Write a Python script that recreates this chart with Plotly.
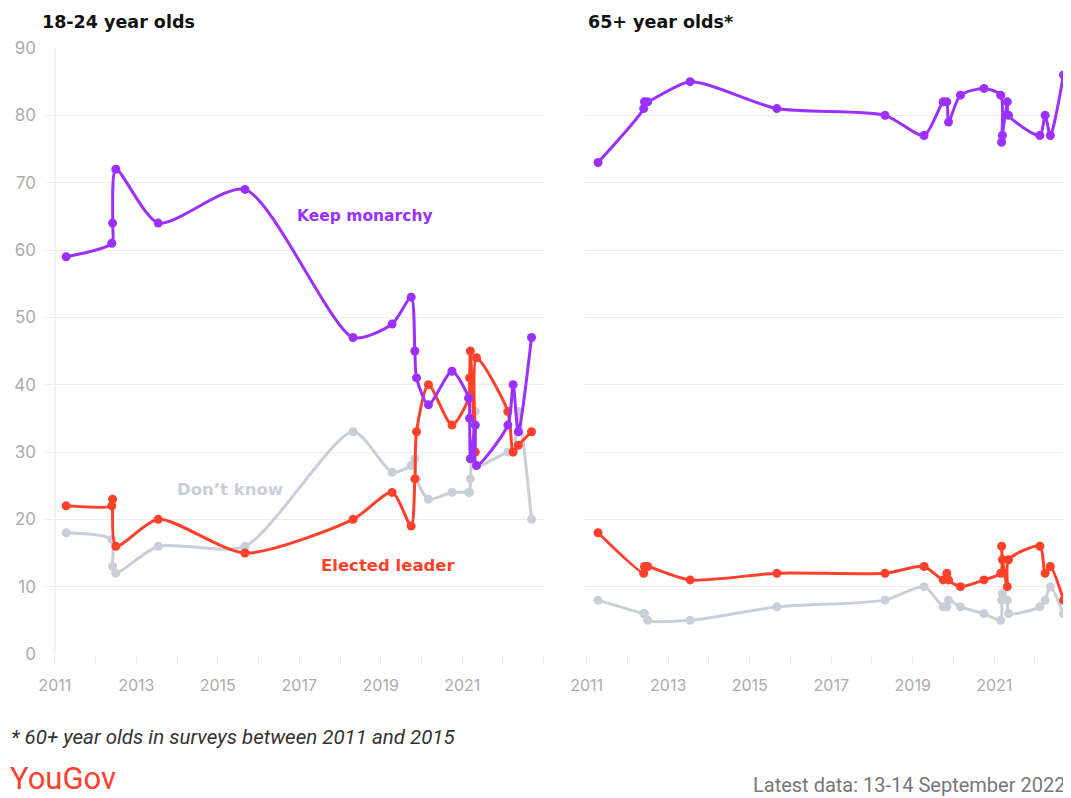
import plotly.graph_objects as go

# ---------------- data ----------------
survey_dates = [
    "2011-04-13", "2012-05-26", "2012-06-02", "2012-07-01", "2013-07-16",
    "2015-09-02", "2018-04-28", "2019-04-13", "2019-10-01", "2019-11-03",
    "2019-11-18", "2020-03-04", "2020-10-01", "2021-02-28", "2021-03-08",
    "2021-03-15", "2021-04-28", "2021-05-09", "2022-02-14", "2022-04-02",
    "2022-05-19", "2022-09-14",
]

young_keep = [59, 61, 64, 72, 64, 69, 47, 49, 53, 45, 41, 37, 42, 38, 35, 29, 34, 28, 34, 40, 33, 47]
young_elected = [22, 22, 23, 16, 20, 15, 20, 24, 19, 26, 33, 40, 34, 38, 41, 45, 30, 44, 36, 30, 31, 33]
young_dont_know = [18, 17, 13, 12, 16, 16, 33, 27, 28, 29, 26, 23, 24, 24, 24, 26, 36, 28, 30, 30, 36, 20]

old_keep = [73, 81, 82, 82, 85, 81, 80, 77, 82, 82, 79, 83, 84, 83, 76, 77, 82, 80, 77, 80, 77, 86]
old_elected = [18, 12, 13, 13, 11, 12, 12, 13, 11, 12, 11, 10, 11, 12, 16, 14, 10, 14, 16, 12, 13, 8]
old_dont_know = [8, 6, 6, 5, 5, 7, 8, 10, 7, 7, 8, 7, 6, 5, 8, 9, 8, 6, 7, 8, 10, 6]

year_tickvals = ["2011-01-01", "2013-01-01", "2015-01-01", "2017-01-01", "2019-01-01", "2021-01-01"]
year_ticktext = ["2011", "2013", "2015", "2017", "2019", "2021"]
y_tickvals = [0, 10, 20, 30, 40, 50, 60, 70, 80, 90]

panel_titles = ["18-24 year olds", "65+ year olds*"]
series_names = ["Keep monarchy", "Elected leader", "Don\u2019t know"]
footnote = "* 60+ year olds in surveys between 2011 and 2015"
source_note = "Latest data: 13-14 September 2022"
brand = "YouGov"

# ---------------- style ----------------
# the page body has an 8px margin, so the figure is drawn 8px smaller and
# every layout position below is given in window pixels and shifted back
OFF = 8
W, H = 1071 - OFF, 798 - OFF
PURPLE = "#9b30ff"
RED = "#ff412c"
GREY = "#c9ced8"
GRID = "#ededed"
TICKTXT = "#ababab"
FONT = "Inter"
WIDE = "DejaVu Sans"


def px(x):
    return (x - OFF) / W


def py(y):
    return 1 - (y - OFF) / H


fig = go.Figure()

panels = [
    ("x", "y", young_keep, young_elected, young_dont_know),
    ("x2", "y2", old_keep, old_elected, old_dont_know),
]
for xa, ya, keep, elected, dk in panels:
    for vals, col, name in [(dk, GREY, series_names[2]), (elected, RED, series_names[1]), (keep, PURPLE, series_names[0])]:
        fig.add_trace(go.Scatter(
            x=survey_dates, y=vals, xaxis=xa, yaxis=ya, name=name,
            mode="lines+markers",
            line=dict(color=col, width=3, shape="spline", smoothing=0.7),
            marker=dict(color=col, size=9),
            showlegend=False, cliponaxis=False,
        ))

y_bottom, y_top = py(654), py(48)

common_x = dict(
    type="date", automargin=False,
    tickmode="array", tickvals=year_tickvals, ticktext=year_ticktext,
    ticks="outside", ticklen=10, tickcolor=GRID, tickwidth=1,
    minor=dict(dtick="M12", tick0="2011-01-01", ticks="outside", ticklen=10,
               tickcolor=GRID, tickwidth=1, showgrid=False),
    showgrid=False, zeroline=False, showline=False,
    tickfont=dict(family=FONT, size=16, color=TICKTXT),
    ticklabelstandoff=7,
    fixedrange=True,
)
common_y = dict(
    range=[0, 90], tickmode="array", tickvals=y_tickvals, automargin=False,
    showgrid=True, gridcolor=GRID, gridwidth=1.2, zeroline=False, showline=False,
    tickfont=dict(family=FONT, size=17, color=TICKTXT),
    fixedrange=True,
)

fig.update_layout(
    width=W, height=H,
    margin=dict(l=0, r=0, t=0, b=0, pad=0, autoexpand=False),
    paper_bgcolor="white", plot_bgcolor="white",
    xaxis=dict(common_x, domain=[px(45), px(544)], range=["2010-10-05", "2023-01-04"], anchor="y"),
    yaxis=dict(common_y, domain=[y_bottom, y_top], anchor="x", ticklabelstandoff=8),
    xaxis2=dict(common_x, domain=[px(585), px(1071)], range=["2010-12-17", "2022-11-20"], anchor="y2"),
    yaxis2=dict(common_y, domain=[y_bottom, y_top], anchor="x2", showticklabels=False),
    font=dict(family=FONT),
)

# vertical axis line at 2011 on the left panel
fig.add_shape(type="line", xref="x", yref="y", x0="2011-01-01", x1="2011-01-01", y0=0, y1=90,
              line=dict(color=GRID, width=1.5), layer="below")

ann = []
ann.append(dict(text="<b>" + panel_titles[0] + "</b>", x=px(40), y=py(22), xref="paper", yref="paper",
                xanchor="left", yanchor="middle", showarrow=False,
                font=dict(family=WIDE, size=17.5, color="#111111")))
ann.append(dict(text="<b>" + panel_titles[1] + "</b>", x=px(586), y=py(22), xref="paper", yref="paper",
                xanchor="left", yanchor="middle", showarrow=False,
                font=dict(family=WIDE, size=17.5, color="#111111")))
# series labels
ann.append(dict(text="<b>" + series_names[0] + "</b>", x="2018-08-15", y=65, xref="x", yref="y",
                showarrow=False, xanchor="center", yanchor="middle",
                font=dict(family=WIDE, size=15.5, color=PURPLE)))
ann.append(dict(text="<b>" + series_names[2] + "</b>", x="2015-04-22", y=24.4, xref="x", yref="y",
                showarrow=False, xanchor="center", yanchor="middle",
                font=dict(family=WIDE, size=16.5, color=GREY)))
ann.append(dict(text="<b>" + series_names[1] + "</b>", x="2019-03-08", y=13.2, xref="x", yref="y",
                showarrow=False, xanchor="center", yanchor="middle",
                font=dict(family=WIDE, size=16.5, color=RED)))
# footer
ann.append(dict(text="<i>" + footnote + "</i>", x=px(9), y=py(737), xref="paper", yref="paper",
                xanchor="left", yanchor="middle", showarrow=False,
                font=dict(family="Roboto", size=20.5, color="#333333")))
ann.append(dict(text=brand, x=px(8), y=py(778), xref="paper", yref="paper",
                xanchor="left", yanchor="middle", showarrow=False,
                font=dict(family="Roboto", size=31, color=RED)))
ann.append(dict(text=source_note, x=px(1067), y=py(785), xref="paper", yref="paper",
                xanchor="right", yanchor="middle", showarrow=False,
                font=dict(family="Roboto", size=20, color="#777777")))

fig.update_layout(annotations=ann)

fig.write_html("out.html")
